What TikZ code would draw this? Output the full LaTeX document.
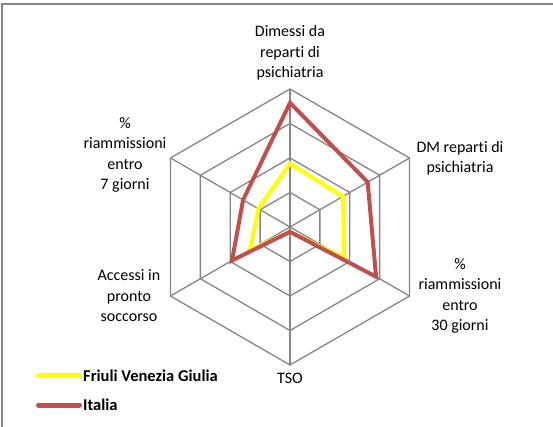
\documentclass[tikz,border=0pt]{standalone}
\usepackage{fontspec}
\setmainfont[Ligatures=NoCommon]{Carlito}
\usetikzlibrary{positioning}
\definecolor{gridColor}{RGB}{134,134,134}
\definecolor{fvgColor}{RGB}{255,255,0}
\definecolor{italiaColor}{RGB}{192,80,77}
\tikzstyle{radar} = [x = 1pt, y = 1pt]
\tikzstyle{gridLine} = [color=gridColor, line width=1.3pt]
\tikzstyle{frameLine} = [color=gridColor, line width=2.2pt]
\tikzstyle{seriesLine} = [line width=4pt]
\tikzstyle{legendLine} = [line width=5pt, line cap=round]
\tikzstyle{axisLabel} = [align=center, inner sep=0pt, font=\fontsize{16}{20.5}\selectfont]
\tikzstyle{legendText} = [anchor=west, inner sep=0pt, font=\fontsize{16.5}{20}\selectfont\bfseries]
\newcommand{\ringStep}{34.5}
\newcommand{\seriesPlot}[7]{\draw [seriesLine, #1] (90:{#2 * \ringStep}) -- (30:{#3 * \ringStep}) -- (-30:{#4 * \ringStep}) -- (-90:{#5 * \ringStep}) -- (-150:{#6 * \ringStep}) -- (150:{#7 * \ringStep}) -- cycle;}

\begin{document}
\begin{tikzpicture}[radar]
  \useasboundingbox (-290,-200) rectangle (263,227);
  % frame
  \draw [frameLine] (-288,-200) -- (-288,223) -- (263,223);

  % rings and spokes
  \coordinate (center) at (0,0);
  \foreach \ring in {1,...,4} {
    \draw [gridLine] (90:{\ring * \ringStep}) -- (30:{\ring * \ringStep}) -- (-30:{\ring * \ringStep}) -- (-90:{\ring * \ringStep}) -- (-150:{\ring * \ringStep}) -- (150:{\ring * \ringStep}) -- cycle;
  }
  \foreach \angle/\spoke in {90/dimessi, 30/dmReparti, -30/riamTrenta, -90/tso, -150/accessi, 150/riamSette} {
    \coordinate (\spoke) at (\angle:{4 * \ringStep});
    \draw [gridLine] (center) -- (\spoke);
  }

  % series
  \seriesPlot{fvgColor}{1.84}{1.77}{1.82}{0.14}{1.34}{1.06}
  \seriesPlot{italiaColor}{3.6}{2.6}{2.88}{0.14}{1.94}{1.57}

  % axis labels
  \node [axisLabel] (dimessiLabel) at (0,174) {Dimessi da\\reparti di\\psichiatria};
  \node [axisLabel] (dmLabel) at (170,69) {DM reparti di\\psichiatria};
  \node [axisLabel] (trentaLabel) at (170,-69) {\%\\riammissioni\\entro\\30 giorni};
  \node [axisLabel] (tsoLabel) at (0,-151) {TSO};
  \node [axisLabel] (accessiLabel) at (-161,-69) {Accessi in\\pronto\\soccorso};
  \node [axisLabel] (setteLabel) at (-165,72) {\%\\riammissioni\\entro\\7 giorni};

  % legend
  \node [legendText] (fvgLabel) at (-207,-148.7) {Friuli Venezia Giulia};
  \node [legendText] (italiaLabel) at (-207,-178) {Italia};
  \draw [legendLine, fvgColor] ([xshift=-3.5pt]fvgLabel.west) -- ++(-41,0);
  \draw [legendLine, italiaColor] ([xshift=-3.5pt]italiaLabel.west) -- ++(-41,0);
\end{tikzpicture}
\end{document}
